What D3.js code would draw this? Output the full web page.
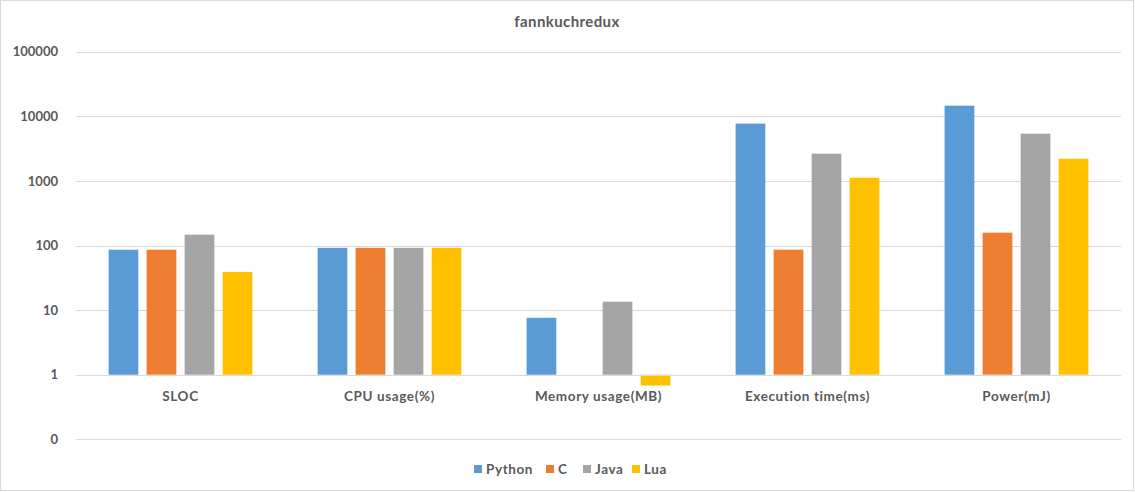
<!DOCTYPE html>
<html>
<head>
<meta charset="utf-8">
<script src="https://cdn.jsdelivr.net/npm/d3@7/dist/d3.min.js"></script>
<style>
  html, body { margin: 0; padding: 0; background: #fff; }
  svg { display: block; }
  text { font-family: Lato, "Open Sans", sans-serif; font-weight: bold; fill: #595959; }
</style>
</head>
<body>
<svg id="chart" width="1135" height="492"></svg>
<script>
const title = "fannkuchredux";
const categories = ["SLOC", "CPU usage(%)", "Memory usage(MB)", "Execution time(ms)", "Power(mJ)"];
const seriesNames = ["Python", "C", "Java", "Lua"];
const seriesColors = ["#5b9bd5", "#ed7d31", "#a5a5a5", "#ffc000"];
const pythonValues = [86, 92, 7.6, 7700, 14600];
const cValues = [86, 92, 1, 86, 158];
const javaValues = [147, 92, 13.5, 2640, 5380];
const luaValues = [39, 92, 0.68, 1120, 2200];
const tickValues = [0.1, 1, 10, 100, 1000, 10000, 100000];
const tickLabels = ["0", "1", "10", "100", "1000", "10000", "100000"];

const allValues = [pythonValues, cValues, javaValues, luaValues];

const svg = d3.select("#chart");

// chart border
svg.append("rect").attr("x", 0.5).attr("y", 0.5).attr("width", 1133).attr("height", 490)
  .attr("fill", "#fff").attr("stroke", "#d9d9d9").attr("stroke-width", 1);

const plotLeft = 76, plotRight = 1121;
const y = d3.scaleLog().domain([0.1, 100000]).range([439.3, 51.7]);
const x0 = d3.scaleBand().domain(categories).range([plotLeft, plotRight]).paddingInner(0).paddingOuter(0);
const groupPad = 32.6;
const x1 = d3.scaleBand().domain(seriesNames)
  .range([groupPad, x0.bandwidth() - groupPad]).paddingInner(0.218).paddingOuter(0);

// gridlines
svg.append("g").selectAll("line").data(tickValues).join("line")
  .attr("x1", plotLeft).attr("x2", plotRight)
  .attr("y1", d => Math.round(y(d)) + 0.5).attr("y2", d => Math.round(y(d)) + 0.5)
  .attr("stroke", "#d9d9d9").attr("stroke-width", 1);

// y axis labels
const yAxis = d3.axisLeft(y).tickValues(tickValues)
  .tickFormat((d, i) => tickLabels[i]).tickSize(0).tickPadding(0);
const yg = svg.append("g").attr("transform", `translate(58,0)`).call(yAxis);
yg.select(".domain").remove();
yg.selectAll("text").style("font-size", "13px").attr("fill", "#595959")
  .style("font-family", "Lato, 'Open Sans', sans-serif").style("font-weight", "bold");

// bars (baseline at value 1)
const base = y(1);
const groups = svg.append("g").selectAll("g").data(categories).join("g")
  .attr("transform", d => `translate(${x0(d)},0)`);
groups.selectAll("rect").data((c, ci) => seriesNames.map((s, si) => ({ s, si, v: allValues[si][ci] })))
  .join("rect")
  .attr("x", d => x1(d.s))
  .attr("width", x1.bandwidth())
  .attr("y", d => Math.min(y(d.v), base))
  .attr("height", d => Math.abs(base - y(d.v)))
  .attr("fill", d => seriesColors[d.si]);

// x axis line (at 1)
svg.append("line").attr("x1", plotLeft).attr("x2", plotRight)
  .attr("y1", Math.round(base) + 0.5).attr("y2", Math.round(base) + 0.5)
  .attr("stroke", "#d9d9d9");

// category labels
const xAxis = d3.axisBottom(x0).tickSize(0).tickPadding(0);
const xg = svg.append("g").attr("transform", `translate(0,391)`).call(xAxis);
xg.select(".domain").remove();
xg.selectAll("text").style("font-size", "13.5px").attr("fill", "#595959")
  .style("letter-spacing", "0.6px")
  .style("font-family", "Lato, 'Open Sans', sans-serif").style("font-weight", "bold");

// title
svg.append("text").attr("x", 567).attr("y", 27).attr("text-anchor", "middle")
  .style("font-size", "15px").style("letter-spacing", "0.4px").text(title);

// legend
const legendX = [474, 546, 583, 632];
const lg = svg.append("g").selectAll("g").data(seriesNames).join("g")
  .attr("transform", (d, i) => `translate(${legendX[i]},465)`);
lg.append("rect").attr("width", 8).attr("height", 8).attr("fill", (d, i) => seriesColors[i]);
lg.append("text").attr("x", 12).attr("y", 8.5).style("font-size", "13.5px")
  .style("letter-spacing", "0.6px").text(d => d);
</script>
</body>
</html>
